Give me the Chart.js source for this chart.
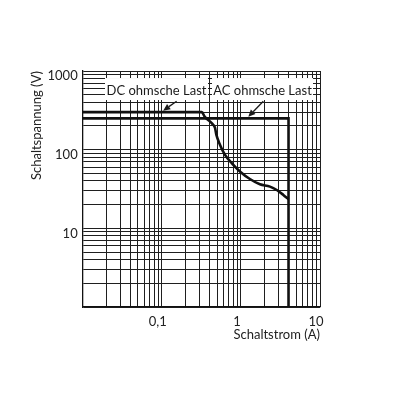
<!DOCTYPE html>
<html>
<head>
<meta charset="utf-8">
<script src="https://cdn.jsdelivr.net/npm/chart.js@4.4.1/dist/chart.umd.min.js"></script>
<style>
html,body{margin:0;padding:0;background:#fff;}
#wrap{width:400px;height:400px;position:relative;}
</style>
</head>
<body>
<div id="wrap"><canvas id="c"></canvas></div>
<script>
// ---- data ----
const dcCurrent = [0.01, 0.32, 0.35, 0.43, 0.47, 0.49, 0.545, 0.63, 0.77, 0.98, 1.3, 1.74, 2.33, 2.84, 3.44, 4.0];
const dcVoltage = [300, 300, 261, 216, 190, 154, 115, 86, 67, 52.5, 42.4, 36.3, 33.9, 30.7, 26.6, 23.4];
const acCurrent = [0.01, 4.0, 4.0];
const acVoltage = [250, 250, 1];

const xLabelValues = [0.1, 1, 10];
const xLabelTexts = ['0,1', '1', '10'];
const yLabelValues = [10, 100, 1000];
const yLabelTexts = ['10', '100', '1000'];

const xDecades = [-2, -1, 0];
const yDecades = [0, 1, 2];
const mantissas = [1, 2, 3, 4, 5, 6, 7, 8, 9];

const seriesNames = ['DC ohmsche Last', 'AC ohmsche Last'];
const xTitle = 'Schaltstrom (A)';
const yTitle = 'Schaltspannung (V)';

// ---- helpers ----
function gridValues(decades, top) {
  const out = [];
  decades.forEach(e => mantissas.forEach(m => out.push(Number((m * Math.pow(10, e)).toPrecision(3)))));
  out.push(top);
  return out;
}
function labelFor(values, texts, v) {
  const i = values.findIndex(t => Math.abs(t - v) / t < 1e-6);
  return i >= 0 ? texts[i] : '';
}
const xGrid = gridValues(xDecades, 10);
const yGrid = gridValues(yDecades, 1000);

const FONT = 'Lato';

// annotation anchors in data coordinates
const annotations = [
  {text: seriesNames[0], cx: 0.0857, cy: 590, w: 103, h: 22,
   tail: [0.154, 412], tip: [0.104, 300]},
  {text: seriesNames[1], cx: 1.875, cy: 590, w: 101, h: 22,
   tail: [1.92, 412], tip: [1.24, 250]}
];

const annotationPlugin = {
  id: 'labels',
  beforeDatasetsDraw(chart) {
    const ctx = chart.ctx;
    const xs = chart.scales.x, ys = chart.scales.y;
    ctx.save();
    annotations.forEach(a => {
      const px = xs.getPixelForValue(a.cx), py = ys.getPixelForValue(a.cy);
      ctx.fillStyle = '#fff';
      ctx.fillRect(px - a.w / 2, py - a.h / 2, a.w, a.h);
      ctx.fillStyle = '#1a1a1a';
      ctx.font = '13px ' + FONT;
      ctx.textAlign = 'center';
      ctx.textBaseline = 'middle';
      ctx.fillText(a.text, px, py + 2);
      // arrow
      const tx = xs.getPixelForValue(a.tail[0]), ty = ys.getPixelForValue(a.tail[1]);
      let hx = xs.getPixelForValue(a.tip[0]), hy = ys.getPixelForValue(a.tip[1]) - 1.5;
      const ang = Math.atan2(hy - ty, hx - tx);
      const L = 7, W = 3.2;
      const bx = hx - L * Math.cos(ang), by = hy - L * Math.sin(ang);
      ctx.strokeStyle = '#1a1a1a';
      ctx.lineWidth = 1.3;
      ctx.beginPath();
      ctx.moveTo(tx, ty);
      ctx.lineTo(bx, by);
      ctx.stroke();
      ctx.beginPath();
      ctx.moveTo(hx, hy);
      ctx.lineTo(bx + W * Math.sin(ang), by - W * Math.cos(ang));
      ctx.lineTo(bx - W * Math.sin(ang), by + W * Math.cos(ang));
      ctx.closePath();
      ctx.fill();
    });
    ctx.restore();
  }
};

const toPoints = (xs, ys) => xs.map((x, i) => ({x: x, y: ys[i]}));

new Chart(document.getElementById('c'), {
  type: 'line',
  data: {
    datasets: [
      {label: seriesNames[0], data: toPoints(dcCurrent, dcVoltage),
       borderColor: '#111', borderWidth: 2.6, pointRadius: 0,
       cubicInterpolationMode: 'monotone', fill: false},
      {label: seriesNames[1], data: toPoints(acCurrent, acVoltage),
       borderColor: '#111', borderWidth: 2.6, pointRadius: 0,
       tension: 0, fill: false}
    ]
  },
  options: {
    responsive: true,
    maintainAspectRatio: false,
    animation: false,
    layout: {padding: {top: 71, right: 80, left: 0, bottom: 0}},
    plugins: {legend: {display: false}, tooltip: {enabled: false}},
    scales: {
      x: {
        type: 'logarithmic', min: 0.01, max: 10, position: 'bottom',
        afterBuildTicks: s => { s.ticks = xGrid.map(v => ({value: v})); },
        afterFit: s => { s.height = 93; },
        grid: {color: '#1f1f1f', lineWidth: 1, drawTicks: false},
        border: {color: '#111', width: 1.3},
        ticks: {autoSkip: false, maxRotation: 0, padding: 7, labelOffset: -4,
                color: '#222', font: {family: FONT, size: 13},
                callback: v => labelFor(xLabelValues, xLabelTexts, v)},
        title: {display: true, text: xTitle, align: 'end', color: '#222',
                font: {family: FONT, size: 13}, padding: {top: 0, bottom: 57}}
      },
      y: {
        type: 'logarithmic', min: 1, max: 1000, position: 'left',
        afterBuildTicks: s => { s.ticks = yGrid.map(v => ({value: v})); },
        afterFit: s => { s.width = 82.7; },
        grid: {color: '#1f1f1f', lineWidth: 1, drawTicks: false},
        border: {color: '#111', width: 1.3},
        ticks: {autoSkip: false, padding: 5, labelOffset: 5,
                color: '#222', font: {family: FONT, size: 13},
                callback: v => labelFor(yLabelValues, yLabelTexts, v)},
        title: {display: true, text: yTitle, align: 'end', color: '#222',
                font: {family: FONT, size: 13}, padding: {top: 29, bottom: 0}}
      }
    }
  },
  plugins: [annotationPlugin]
});
</script>
</body>
</html>
